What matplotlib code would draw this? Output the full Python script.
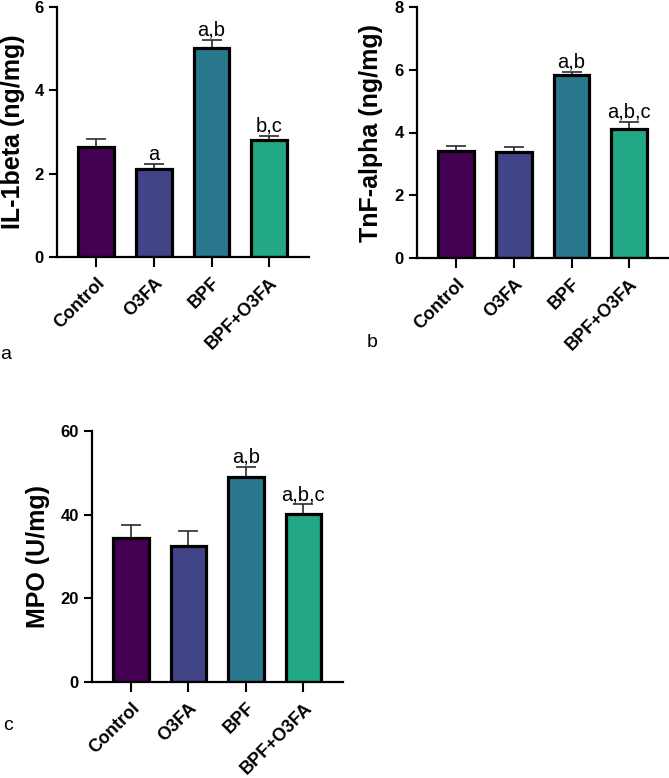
import numpy as np
import matplotlib
matplotlib.use("Agg")
import matplotlib.pyplot as plt

plt.rcParams['font.family'] = ['Liberation Sans', 'DejaVu Sans']

groups = ["Control", "O3FA", "BPF", "BPF+O3FA"]
colors = ["#440154", "#414487", "#2A788E", "#22A884"]

il1_mean = [2.64, 2.11, 5.02, 2.81]
il1_sem = [0.19, 0.12, 0.19, 0.09]
il1_sig = ["", "a", "a,b", "b,c"]

tnf_mean = [3.41, 3.38, 5.82, 4.11]
tnf_sem = [0.16, 0.15, 0.12, 0.22]
tnf_sig = ["", "", "a,b", "a,b,c"]

mpo_mean = [34.4, 32.5, 49.0, 40.2]
mpo_sem = [3.1, 3.6, 2.4, 2.3]
mpo_sig = ["", "", "a,b", "a,b,c"]

W, H = 669, 778
fig = plt.figure(figsize=(W / 100, H / 100), dpi=100)


def px_axes(left, right, top, bottom):
    return fig.add_axes([left / W, 1 - bottom / H, (right - left) / W, (bottom - top) / H])


def bar_panel(ax, means, sems, sig, ymax, step, ylabel, label_x):
    x = np.arange(len(groups))
    ax.errorbar(x, means, yerr=[np.zeros(len(sems)), sems], fmt='none',
                ecolor='#2b2b2b', elinewidth=1.2, capsize=7, capthick=1.2, zorder=1)
    ax.bar(x, means, width=0.62, color=colors, edgecolor='black', linewidth=2.3, zorder=2)
    for xi, m, s, t in zip(x, means, sems, sig):
        if t:
            ax.annotate(t, (xi, m + s), xytext=(0, 3), textcoords='offset points',
                        ha='center', va='baseline', fontsize=14.5)
    ax.set_xlim(-0.68, 3.69)
    ax.set_ylim(0, ymax)
    ax.set_yticks(np.arange(0, ymax + step / 2, step))
    ax.set_xticks(x)
    ax.set_xticklabels(groups, rotation=45, ha='right', rotation_mode='anchor')
    for lab in ax.get_yticklabels():
        lab.set_fontweight('bold')
        lab.set_fontsize(12)
    for lab in ax.get_xticklabels():
        lab.set_fontweight('bold')
        lab.set_fontsize(13)
    ax.tick_params(axis='both', width=1.5, length=6, color='black')
    ax.tick_params(axis='x', length=7, pad=5.5)
    ax.spines['top'].set_visible(False)
    ax.spines['right'].set_visible(False)
    for sp in ('left', 'bottom'):
        ax.spines[sp].set_linewidth(1.6)
    ax.set_ylabel(ylabel, fontsize=18, fontweight='bold')
    ax.yaxis.set_label_coords(label_x, 0.5)


ax_a = px_axes(57, 309, 7, 257)
bar_panel(ax_a, il1_mean, il1_sem, il1_sig, 6, 2, "IL-1beta (ng/mg)", -0.127)

ax_b = px_axes(417, 669, 7, 258)
bar_panel(ax_b, tnf_mean, tnf_sem, tnf_sig, 8, 2, "TnF-alpha (ng/mg)", -0.135)

ax_c = px_axes(92, 343, 431, 682)
bar_panel(ax_c, mpo_mean, mpo_sem, mpo_sig, 60, 20, "MPO (U/mg)", -0.167)

fig.text(0 / W, 1 - 359 / H, "a", fontsize=14, ha='left', va='baseline')
fig.text(367 / W, 1 - 347 / H, "b", fontsize=14, ha='left', va='baseline')
fig.text(3 / W, 1 - 730 / H, "c", fontsize=14, ha='left', va='baseline')

fig.savefig("out.png", dpi=100)
